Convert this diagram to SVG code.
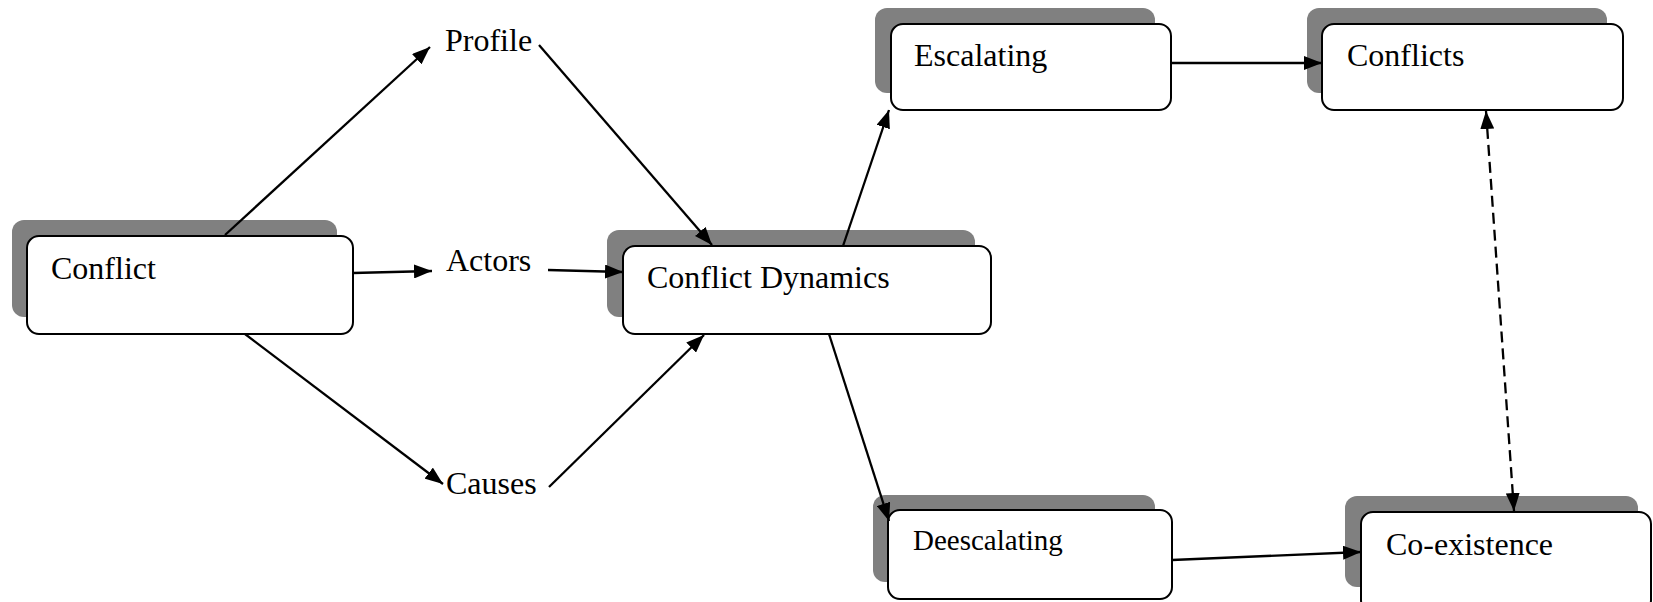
<svg xmlns="http://www.w3.org/2000/svg" width="1653" height="602" viewBox="0 0 1653 602">
<style>
.sh{fill:#808080;stroke:none}
.bx{fill:#fff;stroke:#000;stroke-width:2}
.t{font-family:"Liberation Serif","Times New Roman",serif;font-size:32px;fill:#000}
.ts{font-family:"Liberation Serif","Times New Roman",serif;font-size:29px;fill:#000}
.c{stroke:#000;stroke-width:2.3;fill:none;marker-end:url(#ah)}
.d{stroke:#000;stroke-width:2.3;fill:none;stroke-dasharray:11,6;marker-end:url(#ah);marker-start:url(#ahs)}
</style>
<defs>
<marker id="ah" viewBox="0 0 18 14" refX="18" refY="7" markerWidth="18" markerHeight="14" markerUnits="userSpaceOnUse" orient="auto">
<path d="M0,0 L18,7 L0,14 z" fill="#000"/>
</marker>
<marker id="ahs" viewBox="0 0 18 14" refX="0" refY="7" markerWidth="18" markerHeight="14" markerUnits="userSpaceOnUse" orient="auto">
<path d="M18,0 L0,7 L18,14 z" fill="#000"/>
</marker>
</defs>
<rect width="1653" height="602" fill="#fff"/>
<g id="conflict">
<rect class="sh" x="12" y="220" width="325" height="97" rx="12"/>
<rect class="bx" x="27" y="236" width="326" height="98" rx="12"/>
<text class="t" x="51" y="279">Conflict</text>
</g>
<g id="profile"><text class="t" x="445" y="51">Profile</text></g>
<g id="actors"><text class="t" x="446" y="271">Actors</text></g>
<g id="causes"><text class="t" x="446" y="494">Causes</text></g>
<g id="dynamics">
<rect class="sh" x="607" y="230" width="368" height="87" rx="12"/>
<rect class="bx" x="623" y="246" width="368" height="88" rx="12"/>
<text class="t" x="647" y="288">Conflict Dynamics</text>
</g>
<g id="escalating">
<rect class="sh" x="875" y="8" width="280" height="85" rx="12"/>
<rect class="bx" x="891" y="24" width="280" height="86" rx="12"/>
<text class="t" x="914" y="66">Escalating</text>
</g>
<g id="conflicts">
<rect class="sh" x="1307" y="8" width="300" height="85" rx="12"/>
<rect class="bx" x="1322" y="24" width="301" height="86" rx="12"/>
<text class="t" x="1347" y="66">Conflicts</text>
</g>
<g id="deescalating">
<rect class="sh" x="873" y="495" width="282" height="87" rx="12"/>
<rect class="bx" x="888" y="510" width="284" height="89" rx="12"/>
<text class="ts" x="913" y="550">Deescalating</text>
</g>
<g id="coexistence">
<rect class="sh" x="1345" y="496" width="293" height="91" rx="12"/>
<rect class="bx" x="1361" y="512" width="290" height="100" rx="12"/>
<text class="t" x="1386" y="555">Co-existence</text>
</g>
<g id="connectors">
<line class="c" x1="225" y1="235" x2="430" y2="47"/>
<line class="c" x1="353" y1="273" x2="432" y2="271"/>
<line class="c" x1="245" y1="334" x2="443" y2="484"/>
<line class="c" x1="539" y1="45" x2="712" y2="245"/>
<line class="c" x1="548" y1="270" x2="623" y2="272"/>
<line class="c" x1="549" y1="487" x2="704" y2="335"/>
<line class="c" x1="843" y1="246" x2="889" y2="110"/>
<line class="c" x1="829" y1="334" x2="889" y2="521"/>
<line class="c" x1="1171" y1="63" x2="1322" y2="63"/>
<line class="c" x1="1172" y1="560" x2="1361" y2="552"/>
<line class="d" x1="1486" y1="111" x2="1514" y2="511"/>
</g>
</svg>
